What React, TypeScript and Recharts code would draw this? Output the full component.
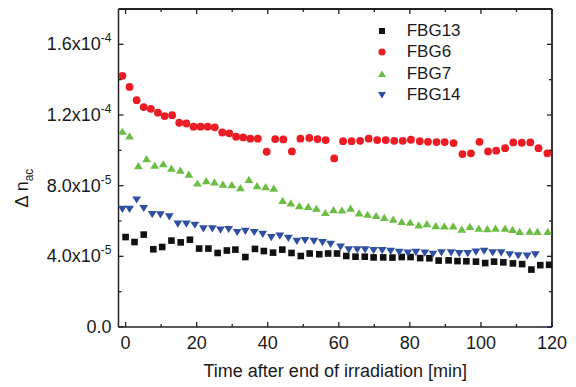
import React from 'react'
import {
  ScatterChart,
  Scatter,
  XAxis,
  YAxis,
  Legend,
  ReferenceLine,
} from 'recharts'

// values are in units of 1e-5
const fbg13Time = [0, 2.5, 5.1, 7.8, 10.3, 12.9, 15.5, 18.1, 20.7, 23.3, 25.9, 28.5, 30.9, 33.7, 36.4, 38.9, 41.5, 44.1, 46.7, 49.3, 51.8, 54.5, 57.0, 59.5, 62.1, 64.7, 67.3, 69.8, 72.5, 75.1, 77.7, 80.2, 82.9, 85.5, 88.1, 90.9, 93.4, 95.9, 98.6, 101.2, 103.7, 106.3, 109.0, 111.6, 114.2, 116.7, 119.2]
const fbg13 = [5.09, 4.81, 5.23, 4.4, 4.53, 4.89, 4.79, 4.94, 4.44, 4.44, 4.19, 4.33, 4.38, 3.96, 4.42, 4.3, 4.21, 4.38, 4.19, 4.02, 4.16, 4.12, 4.16, 4.16, 4.02, 3.98, 3.98, 3.94, 3.94, 3.93, 3.96, 3.96, 3.9, 3.89, 3.76, 3.77, 3.73, 3.72, 3.7, 3.62, 3.7, 3.66, 3.6, 3.56, 3.25, 3.5, 3.52]

const fbg6Time = [-0.9, 1.1, 3.1, 5.1, 7.1, 9.1, 11.0, 13.1, 15.1, 17.1, 19.1, 21.1, 23.1, 25.1, 27.2, 29.2, 31.1, 33.1, 35.1, 37.2, 39.7, 42.1, 44.4, 46.8, 49.2, 51.7, 54.0, 56.3, 58.7, 61.2, 63.6, 66.0, 68.4, 70.8, 73.2, 75.6, 78.0, 80.3, 82.8, 85.1, 87.5, 89.8, 92.3, 94.8, 97.2, 99.6, 102.0, 104.3, 106.8, 109.1, 111.5, 113.9, 116.2, 118.7]
const fbg6 = [14.22, 13.59, 12.84, 12.45, 12.35, 12.13, 11.94, 11.99, 11.56, 11.52, 11.34, 11.34, 11.34, 11.3, 11.01, 10.96, 10.77, 10.73, 10.66, 10.66, 9.92, 10.64, 10.62, 9.94, 10.66, 10.7, 10.64, 10.58, 9.54, 10.52, 10.52, 10.54, 10.66, 10.58, 10.58, 10.54, 10.54, 10.6, 10.52, 10.48, 10.47, 10.47, 10.41, 9.79, 9.83, 10.48, 9.94, 9.98, 10.12, 10.45, 10.43, 10.45, 10.12, 9.83]

const fbg7Time = [-0.9, 1.1, 3.6, 5.9, 8.2, 10.6, 12.9, 15.4, 17.8, 20.2, 22.7, 25.0, 27.4, 29.9, 32.3, 34.7, 37.0, 39.4, 41.7, 44.2, 46.5, 48.9, 51.4, 53.7, 56.2, 58.5, 60.9, 63.3, 65.7, 68.1, 70.5, 72.8, 75.3, 77.7, 80.1, 82.5, 84.8, 87.3, 89.7, 92.2, 94.6, 96.9, 99.4, 101.8, 104.1, 106.8, 108.9, 110.9, 113.7, 115.9, 118.8]
const fbg7 = [11.07, 10.81, 9.12, 9.52, 9.15, 9.23, 8.98, 8.87, 8.64, 8.14, 8.27, 8.2, 8.08, 8.05, 7.88, 8.35, 7.99, 7.93, 7.85, 7.16, 7.01, 6.86, 6.82, 6.71, 6.47, 6.63, 6.61, 6.72, 6.45, 6.37, 6.3, 6.19, 6.09, 5.96, 5.92, 5.77, 5.84, 5.73, 5.71, 5.71, 5.53, 5.69, 5.59, 5.56, 5.59, 5.58, 5.51, 5.4, 5.42, 5.4, 5.4]

const fbg14Time = [-0.9, 1.1, 3.1, 5.1, 7.5, 9.8, 12.3, 14.7, 17.1, 19.5, 21.9, 24.4, 26.7, 29.0, 31.4, 33.7, 36.2, 38.6, 41.0, 43.4, 45.8, 48.2, 50.5, 53.0, 55.4, 57.7, 60.5, 62.8, 65.2, 67.4, 69.8, 72.2, 74.6, 77.0, 79.4, 81.7, 84.2, 86.5, 88.9, 91.6, 93.9, 96.3, 98.6, 100.9, 103.3, 105.7, 108.1, 110.5, 113.0, 115.3, 118.1]
const fbg14 = [6.67, 6.67, 7.2, 6.72, 6.37, 6.36, 6.24, 5.84, 5.84, 5.77, 5.56, 5.56, 5.49, 5.53, 5.36, 5.42, 5.36, 5.25, 5.07, 5.15, 5.03, 4.86, 4.9, 4.86, 4.79, 4.69, 4.53, 4.38, 4.38, 4.38, 4.34, 4.33, 4.29, 4.23, 4.19, 4.23, 4.19, 4.13, 4.21, 4.21, 4.16, 4.16, 4.25, 4.3, 4.21, 4.21, 4.1, 4.04, 4.02, 4.1, -0.15]

const xTicks = [0, 10, 20, 30, 40, 50, 60, 70, 80, 90, 100, 110, 120]
const yTicks = [0, 2, 4, 6, 8, 10, 12, 14, 16]
const yLabels: Record<number, [string, string]> = {
  0: ['0.0', ''],
  4: ['4.0x10', '-5'],
  8: ['8.0x10', '-5'],
  12: ['1.2x10', '-4'],
  16: ['1.6x10', '-4'],
}

const FONT = '"Liberation Sans", Arial, sans-serif'
const AXIS = '#222'
const BLACK = '#111111'
const RED = '#ec1c24'
const GREEN = '#6cbd45'
const BLUE = '#2f4fa3'

// plot box edges (follow from the chart margins below)
const PLOT_TOP = 9
const PLOT_RIGHT = 552

const toPoints = (t: number[], v: number[]) => t.map((x, i) => ({ x, y: v[i] }))

const Square = (p: any) => (
  <rect x={p.cx - 3.3} y={p.cy - 3.3} width={6.6} height={6.6} fill={BLACK} />
)
const Circle = (p: any) => <circle cx={p.cx} cy={p.cy} r={3.9} fill={RED} />
const TriUp = (p: any) => (
  <polygon
    points={`${p.cx},${p.cy - 3.8} ${p.cx + 4.4},${p.cy + 3.4} ${p.cx - 4.4},${p.cy + 3.4}`}
    fill={GREEN}
  />
)
const TriDown = (p: any) => (
  <polygon
    points={`${p.cx - 4.4},${p.cy - 3.4} ${p.cx + 4.4},${p.cy - 3.4} ${p.cx},${p.cy + 3.8}`}
    fill={BLUE}
  />
)

// bottom ticks, mirrored on the top edge of the box
const BottomTick = (props: any) => {
  const { x, y, payload } = props
  const v = payload.value
  const major = v % 20 === 0
  const len = major ? 5 : 3
  return (
    <g>
      <line x1={x} y1={y} x2={x} y2={y - len} stroke={AXIS} strokeWidth={1.3} />
      <line x1={x} y1={PLOT_TOP} x2={x} y2={PLOT_TOP + len} stroke={AXIS} strokeWidth={1.3} />
      {major && (
        <text x={x} y={y + 22} textAnchor="middle" fontSize={18} fontFamily={FONT} fill="#1a1a1a">
          {v}
        </text>
      )}
    </g>
  )
}

// left ticks, mirrored on the right edge of the box
const LeftTick = (props: any) => {
  const { x, y, payload } = props
  const v = payload.value
  const lab = yLabels[v]
  const len = lab ? 5 : 3
  return (
    <g>
      <line x1={x} y1={y} x2={x + len} y2={y} stroke={AXIS} strokeWidth={1.3} />
      <line x1={PLOT_RIGHT} y1={y} x2={PLOT_RIGHT - len} y2={y} stroke={AXIS} strokeWidth={1.3} />
      {lab && (
        <text x={x - 7} y={y + 6} textAnchor="end" fontSize={18} fontFamily={FONT} fill="#1a1a1a">
          {lab[0]}
          {lab[1] && (
            <tspan fontSize={12} dy={-8}>
              {lab[1]}
            </tspan>
          )}
        </text>
      )}
    </g>
  )
}

const YTitle = () => (
  <text
    x={28}
    y={188}
    transform="rotate(-90 28 188)"
    textAnchor="middle"
    fontSize={18}
    fontFamily={FONT}
    fill="#1a1a1a"
  >
    Δ n
    <tspan fontSize={12} dy={5}>
      ac
    </tspan>
  </text>
)

const legendItems = [
  { name: 'FBG13', icon: <rect x={3} y={3} width={6} height={6} fill={BLACK} /> },
  { name: 'FBG6', icon: <circle cx={6} cy={6} r={3.6} fill={RED} /> },
  { name: 'FBG7', icon: <polygon points="6,2.5 10,9 2,9" fill={GREEN} /> },
  { name: 'FBG14', icon: <polygon points="2,3 10,3 6,9.5" fill={BLUE} /> },
]

const LegendBox = () => (
  <div style={{ fontFamily: FONT, fontSize: 17, color: '#1a1a1a' }}>
    {legendItems.map((it) => (
      <div key={it.name} style={{ display: 'flex', alignItems: 'center', height: 21.3 }}>
        <svg width={12} height={12}>{it.icon}</svg>
        <span style={{ marginLeft: 19 }}>{it.name}</span>
      </div>
    ))}
  </div>
)

export default function App() {
  return (
    <div style={{ position: 'absolute', left: 0, top: 0, background: '#fff' }}>
      <ScatterChart width={576} height={387} margin={{ top: PLOT_TOP, right: 576 - PLOT_RIGHT, bottom: 0, left: 0 }}>
        <XAxis
          xAxisId="b"
          type="number"
          dataKey="x"
          domain={[-2, 120]}
          ticks={xTicks}
          interval={0}
          allowDataOverflow
          height={60}
          tickSize={0}
          tickMargin={0}
          tickLine={false}
          axisLine={{ stroke: AXIS, strokeWidth: 1.5 }}
          tick={<BottomTick />}
          label={{
            value: 'Time after end of irradiation [min]',
            position: 'insideBottom',
            offset: 10,
            fontSize: 18,
            fontFamily: FONT,
            fill: '#1a1a1a',
          }}
        />
        <YAxis
          yAxisId="l"
          type="number"
          dataKey="y"
          domain={[0, 18]}
          ticks={yTicks}
          interval={0}
          allowDataOverflow
          width={118.5}
          tickSize={0}
          tickMargin={0}
          tickLine={false}
          axisLine={{ stroke: AXIS, strokeWidth: 1.5 }}
          tick={<LeftTick />}
          label={<YTitle />}
        />
        {/* top and right edges of the box */}
        <ReferenceLine xAxisId="b" yAxisId="l" y={18} stroke={AXIS} strokeWidth={1.8} strokeOpacity={1} ifOverflow="visible" />
        <ReferenceLine xAxisId="b" yAxisId="l" x={120} stroke={AXIS} strokeWidth={1.8} strokeOpacity={1} ifOverflow="visible" />
        <Legend
          layout="horizontal"
          verticalAlign="middle"
          align="center"
          content={<LegendBox />}
          wrapperStyle={{ position: 'absolute', left: 375.7, top: 20.3, width: 'auto' }}
        />
        <Scatter name="FBG13" data={toPoints(fbg13Time, fbg13)} xAxisId="b" yAxisId="l" shape={<Square />} isAnimationActive={false} />
        <Scatter name="FBG6" data={toPoints(fbg6Time, fbg6)} xAxisId="b" yAxisId="l" shape={<Circle />} isAnimationActive={false} />
        <Scatter name="FBG7" data={toPoints(fbg7Time, fbg7)} xAxisId="b" yAxisId="l" shape={<TriUp />} isAnimationActive={false} />
        <Scatter name="FBG14" data={toPoints(fbg14Time, fbg14)} xAxisId="b" yAxisId="l" shape={<TriDown />} isAnimationActive={false} />
      </ScatterChart>
    </div>
  )
}
